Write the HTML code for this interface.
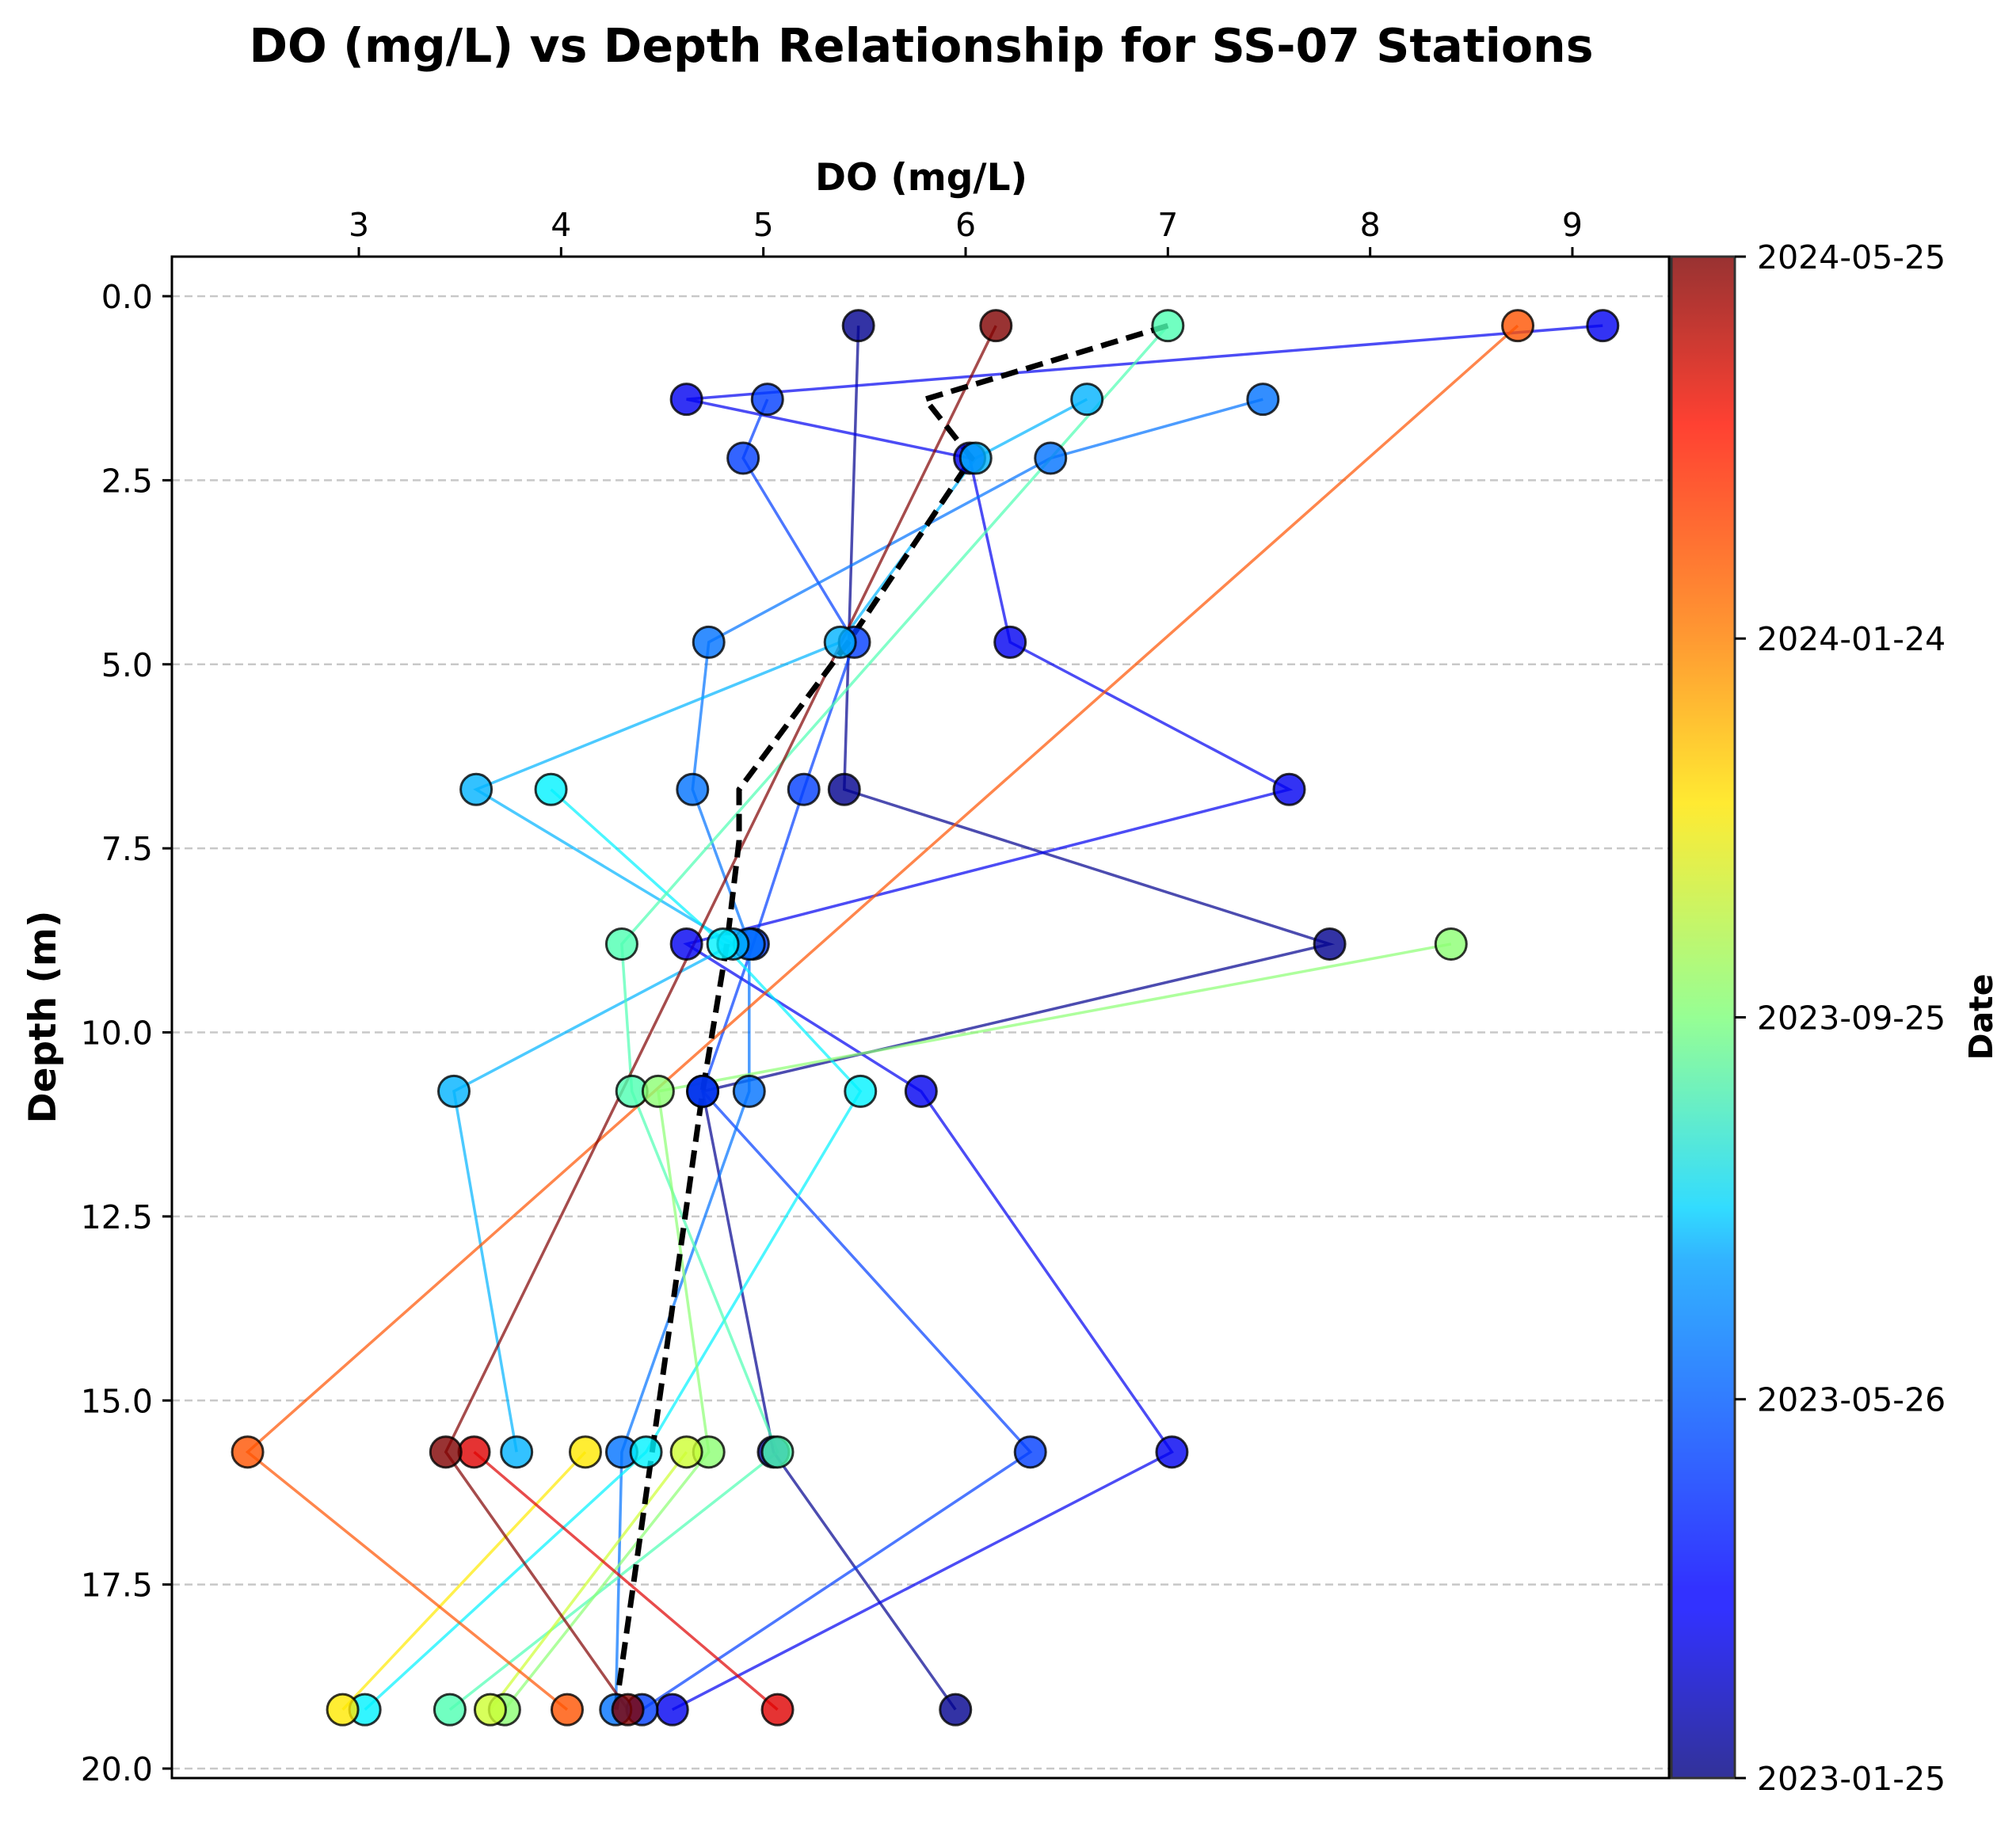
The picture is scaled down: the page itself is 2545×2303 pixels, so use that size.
<!DOCTYPE html>
<html><head><meta charset="utf-8"><style>
body{margin:0;background:#fff;}
svg text{font-family:"DejaVu Sans","Liberation Sans",sans-serif;}
</style></head><body>
<svg id="chart" width="2545" height="2298" xmlns="http://www.w3.org/2000/svg">
<defs>
<linearGradient id="jetg" x1="0" y1="1" x2="0" y2="0">
<stop offset="0" stop-color="#000080"/><stop offset="0.11" stop-color="#0000ff"/><stop offset="0.125" stop-color="#0000ff"/><stop offset="0.34" stop-color="#00a0ff"/><stop offset="0.375" stop-color="#00d4ff"/><stop offset="0.5" stop-color="#7dff7a"/><stop offset="0.64" stop-color="#ffe600"/><stop offset="0.75" stop-color="#ff8000"/><stop offset="0.89" stop-color="#ff1200"/><stop offset="1" stop-color="#800000"/>
</linearGradient>
</defs>
<text x="1163" y="78" font-size="58.5" font-weight="bold" text-anchor="middle">DO (mg/L) vs Depth Relationship for SS-07 Stations</text>
<text x="1163" y="240" font-size="47" font-weight="bold" text-anchor="middle">DO (mg/L)</text>
<text transform="translate(70,1284) rotate(-90)" font-size="47" font-weight="bold" text-anchor="middle">Depth (m)</text>
<text transform="translate(2515,1284) rotate(-90)" font-size="41" font-weight="bold" text-anchor="middle">Date</text>
<g id="grid"></g><g id="lines"></g><g id="meanline"></g><g id="points"></g><g id="axes"></g>
<rect x="2110" y="324" width="80" height="1921" fill="url(#jetg)" opacity="0.8" stroke="#000" stroke-width="3"/>
<g id="cbar"></g>
</svg>
<script>
const depths=[0.4,1.4,2.2,4.7,6.7,8.8,10.8,15.7,19.2];
const profileDates=['2023-02-01','2023-03-20','2023-04-25','2023-05-20','2023-06-20','2023-07-20','2023-09-01','2023-10-01','2023-11-01','2023-12-05','2024-02-15','2024-04-10','2024-05-25'];
const profileDepths=[[0.4,6.7,8.8,10.8,15.7,19.2],[0.4,1.4,2.2,4.7,6.7,8.8,10.8,15.7,19.2],[1.4,2.2,4.7,6.7,8.8,10.8,15.7,19.2],[1.4,2.2,4.7,6.7,8.8,10.8,15.7,19.2],[1.4,2.2,4.7,6.7,8.8,10.8,15.7],[6.7,8.8,10.8,15.7,19.2],[0.4,8.8,10.8,15.7,19.2],[8.8,10.8,15.7,19.2],[15.7,19.2],[15.7,19.2],[0.4,15.7,19.2],[15.7,19.2],[0.4,15.7,19.2]];
const profileDO=[[5.47,5.40,7.8,4.7,5.05,5.95],[9.15,4.62,6.02,6.22,7.6,4.62,5.78,7.02,4.55],[5.02,4.9,5.45,5.2,4.95,4.7,6.32,4.4],[7.47,6.42,4.73,4.65,4.93,4.93,4.3,4.27],[6.6,6.05,5.38,3.58,4.85,3.47,3.78],[3.95,4.8,5.48,4.42,3.03],[7.0,4.3,4.35,5.07,3.45],[8.4,4.48,4.73,3.72],[4.62,3.65],[4.12,2.92],[8.73,2.45,4.03],[3.57,5.07],[6.15,3.43,4.33]];
const meanDepths=[0.4,1.4,2.2,4.7,6.7,7.4,8.8,10.8,15.7,19.2];
const meanDO=[7.0,5.8,6.03,5.42,4.88,4.88,4.82,4.7,4.45,4.27];
const xTicks=[3,4,5,6,7,8,9];
const yTicks=[0,2.5,5,7.5,10,12.5,15,17.5,20];
const cbarLabels=['2023-01-25','2023-05-26','2023-09-25','2024-01-24','2024-05-25'];
const NS='http://www.w3.org/2000/svg';
const L=217,R=2107,T=324,B=2245;
const X=v=>453+(v-3)*255.33;
const Y=d=>374+d*92.95;
const t0=Date.parse('2023-01-25'),t1=Date.parse('2024-05-25');
const CB=s=>B-(Date.parse(s)-t0)/(t1-t0)*(B-T);
function jet(t){const c=x=>Math.round(255*Math.max(0,Math.min(1,x)));return `rgb(${c(1.5-Math.abs(4*t-3))},${c(1.5-Math.abs(4*t-2))},${c(1.5-Math.abs(4*t-1))})`;}
function mk(tag,at,par){const e=document.createElementNS(NS,tag);for(const k in at)e.setAttribute(k,at[k]);document.getElementById(par).appendChild(e);return e;}
yTicks.forEach(v=>{
 const g=mk('line',{x1:L,x2:R,y1:Y(v),y2:Y(v),stroke:'#bbb','stroke-width':2.5,'stroke-dasharray':'10,6',opacity:0.8},'grid');
 
 
 mk('line',{x1:L-12,x2:L,y1:Y(v),y2:Y(v),stroke:'#000','stroke-width':3},'axes');
 const t=mk('text',{x:L-24,y:Y(v)+15,'font-size':41,'text-anchor':'end'},'axes');t.textContent=v.toFixed(1);
 
 
});
xTicks.forEach(v=>{
 mk('line',{x1:X(v),x2:X(v),y1:T-12,y2:T,stroke:'#000','stroke-width':3},'axes');
 const t=mk('text',{x:X(v),y:T-26,'font-size':41,'text-anchor':'middle'},'axes');t.textContent=v;
 
 
});
const fr=mk('rect',{x:L,y:T,width:R-L,height:B-T,fill:'none',stroke:'#000','stroke-width':3},'axes');


profileDates.forEach((d,i)=>{
 const t=(Date.parse(d)-t0)/(t1-t0);const col=jet(t);
 const pts=profileDepths[i].map((z,j)=>X(profileDO[i][j])+','+Y(z)).join(' ');
 const pl=mk('polyline',{points:pts,fill:'none',stroke:col,'stroke-width':3.5,opacity:0.7},'lines');
 
 
 profileDepths[i].forEach((z,j)=>{
  const c=mk('circle',{cx:X(profileDO[i][j]),cy:Y(z),r:19.5,fill:col,'fill-opacity':0.8,stroke:'#000','stroke-width':3,'stroke-opacity':0.8},'points');
  
  
 });
});
const mp=mk('polyline',{points:meanDepths.map((z,j)=>X(meanDO[j])+','+Y(z)).join(' '),fill:'none',stroke:'#000','stroke-width':7,'stroke-dasharray':'22,11'},'meanline');


cbarLabels.forEach(s=>{
 const y=CB(s);
 mk('line',{x1:2190,x2:2204,y1:y,y2:y,stroke:'#000','stroke-width':3},'cbar');
 const t=mk('text',{x:2218,y:y+15,'font-size':41},'cbar');t.textContent=s;
 
 
});
</script>
</body></html>
